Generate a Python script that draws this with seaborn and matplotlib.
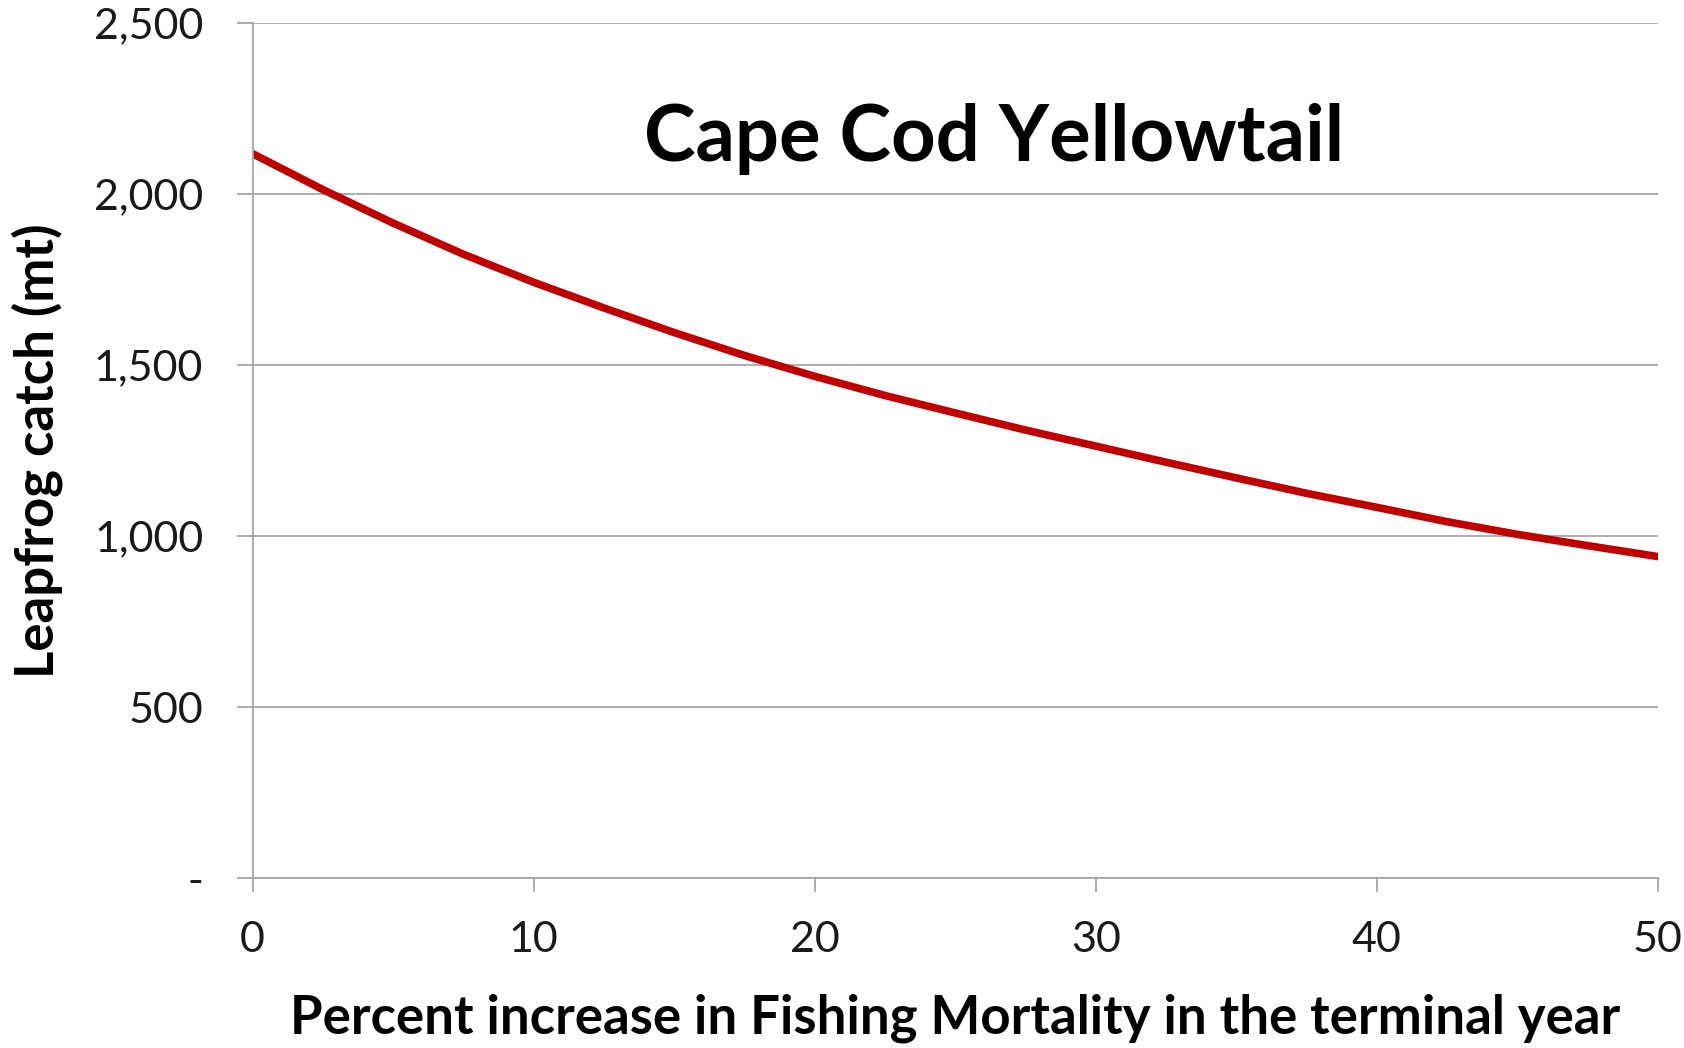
import numpy as np
import pandas as pd
import seaborn as sns
import matplotlib
matplotlib.use("Agg")
import matplotlib.pyplot as plt
from matplotlib.ticker import FuncFormatter

# ---- data ----
pct_increase = [0, 2.5, 5, 7.5, 10, 12.5, 15, 17.5, 20, 22.5, 25,
                27.5, 30, 32.5, 35, 37.5, 40, 42.5, 45, 47.5, 50]
leapfrog_catch = [2118, 2013, 1915, 1824, 1742, 1667, 1595, 1528, 1467, 1411, 1360,
                  1310, 1263, 1216, 1170, 1125, 1084, 1042, 1005, 972, 940]
x_ticks = [0, 10, 20, 30, 40, 50]
y_ticks = [0, 500, 1000, 1500, 2000, 2500]
title_text = "Cape Cod Yellowtail"
x_label = "Percent increase in Fishing Mortality in the terminal year"
y_label = "Leapfrog catch (mt)"

df = pd.DataFrame({"pct": pct_increase, "catch": leapfrog_catch})

sns.set_theme(style="white")
plt.rcParams["font.family"] = ["Lato", "DejaVu Sans"]

fig = plt.figure(figsize=(16.84, 10.48), dpi=100)
ax = fig.add_axes([0.150, 0.1622, 0.8344, 0.8158])

grid_col = "#A6A6A6"
sns.lineplot(data=df, x="pct", y="catch", ax=ax, color="#C00000", linewidth=5.5)

ax.set_xlim(0, 50)
ax.set_ylim(0, 2500)
ax.set_xticks(x_ticks)
ax.set_yticks(y_ticks)
ax.yaxis.set_major_formatter(FuncFormatter(lambda v, p: "-" if v == 0 else f"{int(v):,}"))

ax.grid(axis="y", color=grid_col, linewidth=1.3)
ax.grid(axis="x", visible=False)
for s in ["top", "right"]:
    ax.spines[s].set_visible(False)
for s in ["left", "bottom"]:
    ax.spines[s].set_color(grid_col)
    ax.spines[s].set_linewidth(1.3)

ax.tick_params(axis="y", which="major", direction="out", length=11.5, width=1.3,
               color=grid_col, labelsize=31, labelcolor="#1a1a1a", pad=24, left=True)
ax.tick_params(axis="x", which="major", direction="out", length=10, width=1.3,
               color=grid_col, labelsize=31, labelcolor="#1a1a1a", pad=21, bottom=True)

ax.set_xlabel(x_label, fontsize=38, fontweight="bold", color="black", labelpad=25)
ax.set_ylabel(y_label, fontsize=38, fontweight="bold", color="black", labelpad=22)

ax.text(0.528, 0.864, title_text, transform=ax.transAxes, ha="center", va="center",
        fontsize=56, fontweight="bold", color="black")

fig.savefig("out.png", dpi=100, facecolor="white")
